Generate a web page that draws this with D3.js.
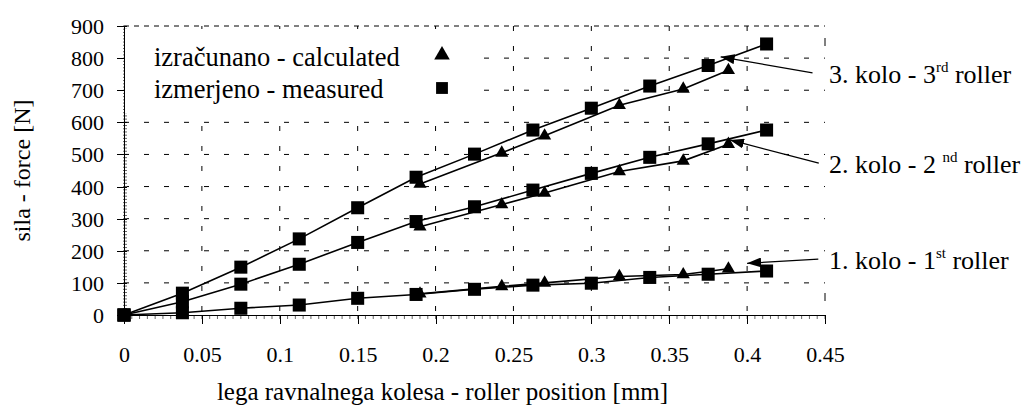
<!DOCTYPE html>
<html>
<head>
<meta charset="utf-8">
<script src="https://cdn.jsdelivr.net/npm/d3@7"></script>
<style>
    body { margin: 0; background: #fff; }
    .chart { width: 1026px; height: 413px; }
    .grid line { stroke: #000; stroke-width: 1; stroke-dasharray: 5,15; }
    .axis path, .axis line { stroke: #000; shape-rendering: crispEdges; }
    .minor line { stroke: #666; }
    .series-line { fill: none; stroke: #000; stroke-width: 1.6; }
</style>
</head>
<body>
<div class="chart"></div>
<script>

let chart = {};

let serif = '"Liberation Serif", "Times New Roman", Times, serif';

//roller position [mm] of the measured points (squares)
let measuredX = [0, 0.0375, 0.075, 0.1125, 0.15, 0.1875, 0.225, 0.2625, 0.3, 0.3375, 0.375, 0.4125];
let measured1 = [0, 7, 21, 31, 52, 64, 80, 93, 99, 117, 127, 137];
let measured2 = [0, 41, 96, 158, 226, 291, 337, 389, 441, 491, 533, 576];
let measured3 = [0, 68, 149, 237, 334, 429, 501, 576, 644, 713, 777, 844];

//roller position [mm] of the calculated points (triangles)
let calculatedX = [0.19, 0.2425, 0.27, 0.318, 0.359, 0.388];
let calculated1 = [66, 89, 100, 120, 126, 144];
let calculated2 = [275, 344, 380, 447, 480, 532];
let calculated3 = [408, 505, 558, 653, 704, 762];

let xTicks = [0, 0.05, 0.1, 0.15, 0.2, 0.25, 0.3, 0.35, 0.4, 0.45];
let xTickLabels = ["0", "0.05", "0.1", "0.15", "0.2", "0.25", "0.3", "0.35", "0.4", "0.45"];
let yTicks = [0, 100, 200, 300, 400, 500, 600, 700, 800, 900];

let legendLabels = ["izračunano - calculated", "izmerjeno - measured"];

//roller annotations: label text + where the arrow starts and points to (data units)
let rollerLabels = ["1. kolo - 1", "2. kolo - 2 ", "3. kolo - 3"];
let rollerSuffix = ["st", "nd", "rd"];
let arrowTailX = [0.4457, 0.446, 0.442];
let arrowTailY = [174, 473, 754];
let arrowTipX = [0.400, 0.389, 0.383];
let arrowTipY = [161, 545, 804];

let xTitle = "lega ravnalnega kolesa - roller position [mm]";
let yTitle = "sila - force [N]";


init();

function init() {

    let measured = [measured1, measured2, measured3];
    let calculated = [calculated1, calculated2, calculated3];

    chart.theData = [];
    measured.forEach((vals, i) => {
        chart.theData.push({
            id: "measured" + (i + 1),
            type: "square",
            values: measuredX.map((x, j) => ({ pos: x, val: vals[j] }))
        });
    });
    calculated.forEach((vals, i) => {
        chart.theData.push({
            id: "calculated" + (i + 1),
            type: "triangle",
            values: calculatedX.map((x, j) => ({ pos: x, val: vals[j] }))
        });
    });

    chart.arrows = rollerLabels.map((label, i) => {
        return {
            label: label,
            suffix: rollerSuffix[i],
            tail: { pos: arrowTailX[i], val: arrowTailY[i] },
            tip: { pos: arrowTipX[i], val: arrowTipY[i] }
        }
    });

    setDimensions();
    setScales();
    appendElements();
    updateElements();
}

function setDimensions() {
    chart.margin = {
        top: 26,
        right: 201,
        bottom: 98,
        left: 124
    };

    let chartWidth = document.querySelector(".chart").offsetWidth;
    let chartHeight = document.querySelector(".chart").offsetHeight;

    chart.width = chartWidth - chart.margin.left - chart.margin.right;
    chart.height = chartHeight - chart.margin.top - chart.margin.bottom;
}

function setScales() {
    chart.xScale = d3.scaleLinear()
        .range([0, chart.width])
        .domain([0, 0.45]);

    chart.yScale = d3.scaleLinear()
        .range([chart.height, 0])
        .domain([0, 900]);

    chart.line = d3.line()
        .x(d => chart.xScale(d.pos))
        .y(d => chart.yScale(d.val));
}

function appendElements() {
    chart.svg = d3.select(".chart").append("svg")
        .style("font-family", serif);

    //arrowhead for the roller labels
    chart.svg.append("defs").append("marker")
        .attr("id", "arrowhead")
        .attr("viewBox", "0 0 14 10")
        .attr("refX", 14)
        .attr("refY", 5)
        .attr("markerUnits", "userSpaceOnUse")
        .attr("markerWidth", 14)
        .attr("markerHeight", 10)
        .attr("orient", "auto")
        .append("path")
        .attr("d", "M0,0L14,5L0,10Z")
        .attr("fill", "#000");

    chart.plot = chart.svg.append("g").attr("class", "chart-g");

    chart.gridX = chart.plot.append("g").attr("class", "grid");
    chart.gridY = chart.plot.append("g").attr("class", "grid");

    chart.minorX = chart.plot.append("g").attr("class", "minor");
    chart.minorY = chart.plot.append("g").attr("class", "minor");

    chart.xAxis = chart.plot.append("g").classed("axis x-axis", true);
    chart.yAxis = chart.plot.append("g").classed("axis y-axis", true);

    //legend sits on a white box that hides the grid behind it
    chart.legend = chart.plot.append("g").attr("class", "legend");

    chart.lineGroup = chart.plot.selectAll(".line-group")
        .data(chart.theData)
        .enter()
        .append("g")
        .attr("class", d => `line-group ${d.id}`);

    chart.linePath = chart.lineGroup.append("path").attr("class", "series-line");

    chart.arrowGroup = chart.plot.selectAll(".arrow-group")
        .data(chart.arrows)
        .enter()
        .append("g")
        .attr("class", "arrow-group");

    chart.xTitle = chart.svg.append("text").text(xTitle);
    chart.yTitle = chart.svg.append("text").text(yTitle);
}

function updateElements() {
    chart.svg.attr("width", chart.width + chart.margin.left + chart.margin.right);
    chart.svg.attr("height", chart.height + chart.margin.top + chart.margin.bottom);

    chart.plot.attr("transform", `translate(${chart.margin.left},${chart.margin.top})`);

    //dashed grid, skipping the zero lines which are the axes
    chart.gridX.selectAll("line")
        .data(xTicks.slice(1))
        .enter()
        .append("line")
        .attr("x1", d => chart.xScale(d))
        .attr("x2", d => chart.xScale(d))
        .attr("y1", 0)
        .attr("y2", chart.height)
        //the right edge only shows a couple of dashes in the original
        .filter(d => d === 0.45)
        .style("stroke-dasharray", "8,247")
        .style("stroke-dashoffset", -12);

    chart.gridY.selectAll("line")
        .data(yTicks.slice(1))
        .enter()
        .append("line")
        .attr("x1", 0)
        .attr("x2", chart.width)
        .attr("y1", d => chart.yScale(d))
        .attr("y2", d => chart.yScale(d))
        //top line is the plot border, tighter dashes
        .filter(d => d === 900)
        .style("stroke-dasharray", "5,5");

    //little minor ticks along both axes
    chart.minorX.selectAll("line")
        .data(d3.range(0, 91).map(i => i * 0.005))
        .enter()
        .append("line")
        .attr("x1", d => chart.xScale(d))
        .attr("x2", d => chart.xScale(d))
        .attr("y1", chart.height)
        .attr("y2", chart.height + 4);

    chart.minorY.selectAll("line")
        .data(d3.range(0, 91).map(i => i * 10))
        .enter()
        .append("line")
        .attr("x1", -1)
        .attr("x2", 3)
        .attr("y1", d => chart.yScale(d))
        .attr("y2", d => chart.yScale(d));

    chart.xAxis.attr("transform", `translate(0,${chart.height})`)
        .call(
            d3.axisBottom(chart.xScale)
            .tickValues(xTicks)
            .tickSize(9)
            .tickSizeOuter(0)
            .tickPadding(22)
            .tickFormat((d, i) => xTickLabels[i])
        );

    chart.yAxis
        .call(
            d3.axisLeft(chart.yScale)
            .tickValues(yTicks)
            .tickSize(7)
            .tickSizeOuter(0)
            .tickPadding(13)
        );
    chart.yAxis.selectAll(".tick line").attr("x2", 3).attr("x1", -7);
    chart.yAxis.selectAll(".tick text").attr("dy", "0.34em");

    //d3 puts sans-serif on the axis groups, swap it back
    chart.plot.selectAll(".axis")
        .attr("font-family", null)
        .attr("font-size", null)
        .style("font-family", serif)
        .style("font-size", "22px");

    chart.linePath.attr("d", d => chart.line(d.values));

    //markers: triangles for calculated, squares for measured
    chart.lineGroup.each(function(d) {
        let sym = d.type === "square" ? d3.symbolSquare : d3.symbolTriangle;
        let size = d.type === "square" ? 170 : 75;
        d3.select(this).selectAll(".dot")
            .data(d.values)
            .enter()
            .append("path")
            .attr("class", "dot")
            .attr("d", d3.symbol().type(sym).size(size))
            .attr("transform", p => `translate(${chart.xScale(p.pos)},${chart.yScale(p.val)})`)
            .attr("fill", "#000");
    });
    chart.plot.selectAll(".line-group.measured1, .line-group.measured2, .line-group.measured3").raise();

    //arrows with the roller labels
    chart.arrowGroup.append("line")
        .attr("x1", d => chart.xScale(d.tail.pos))
        .attr("y1", d => chart.yScale(d.tail.val))
        .attr("x2", d => chart.xScale(d.tip.pos))
        .attr("y2", d => chart.yScale(d.tip.val))
        .attr("stroke", "#000")
        .attr("stroke-width", 1.3)
        .attr("marker-end", "url(#arrowhead)");

    let labels = chart.arrowGroup.append("text")
        .attr("x", chart.width + 4)
        .attr("y", d => chart.yScale(d.tail.val) + 10)
        .style("font-size", "26px");
    labels.append("tspan").text(d => d.label);
    labels.append("tspan")
        .text(d => d.suffix)
        .attr("dy", -11)
        .style("font-size", "15px");
    labels.append("tspan")
        .text(" roller")
        .attr("dy", 11);

    //legend in the top left corner
    chart.legend.append("rect")
        .attr("x", 1)
        .attr("y", 3)
        .attr("width", 351)
        .attr("height", 84)
        .attr("fill", "#fff");

    let legendRows = chart.legend.selectAll("g")
        .data(legendLabels)
        .enter()
        .append("g")
        .attr("transform", (d, i) => `translate(30,${40 + i * 32})`);

    legendRows.append("text")
        .text(d => d)
        .style("font-size", "26.5px");

    legendRows.append("path")
        .attr("d", (d, i) => d3.symbol().type(i === 0 ? d3.symbolTriangle : d3.symbolSquare).size(i === 0 ? 105 : 140)())
        .attr("transform", (d, i) => `translate(288,${i === 0 ? -11 : -10})`)
        .attr("fill", "#000");

    chart.xTitle
        .attr("x", chart.margin.left + chart.width / 2 - 32)
        .attr("y", 400)
        .attr("text-anchor", "middle")
        .style("font-size", "25px");

    chart.yTitle
        .attr("transform", `translate(30,${chart.margin.top + chart.height / 2}) rotate(-90)`)
        .attr("text-anchor", "middle")
        .style("font-size", "24px");
}
</script>
</body>
</html>
